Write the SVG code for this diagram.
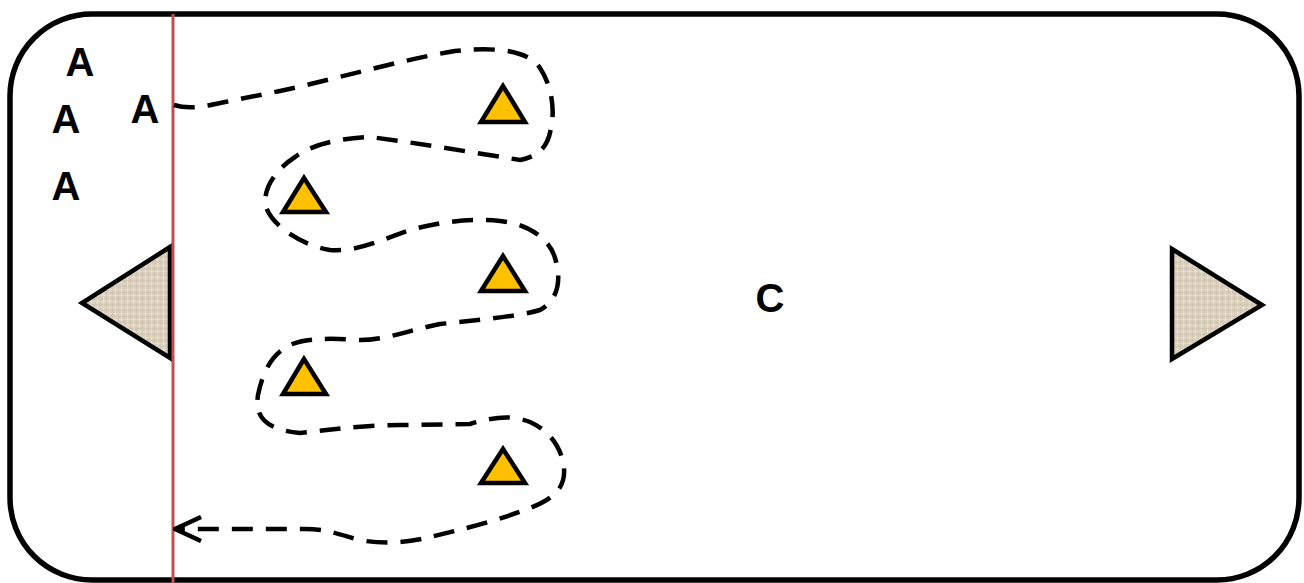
<svg xmlns="http://www.w3.org/2000/svg" width="1304" height="583" viewBox="0 0 1304 583">
  <defs>
    <style>
      .lbl { font-family: "Liberation Sans", Arial, sans-serif; font-weight: bold; font-size: 40px; fill: #000; text-anchor: middle; }
      .cone { fill: #ffc000; stroke: #000; stroke-width: 4.5; stroke-linejoin: miter; }
      .goal { fill: url(#burlap); stroke: #000; stroke-width: 4.5; stroke-linejoin: miter; }
      .route { fill: none; stroke: #000; stroke-width: 4.5; stroke-dasharray: 21 13; }
    </style>
    <pattern id="burlap" width="6" height="6" patternUnits="userSpaceOnUse">
      <rect width="6" height="6" fill="#d8cebb"/>
      <path d="M0,1.5 H6 M1.5,0 V6" stroke="#e6dfd1" stroke-width="1"/>
      <path d="M0,4.5 H6 M4.5,0 V6" stroke="#cdc2ad" stroke-width="0.6"/>
    </pattern>
    <marker id="chev" viewBox="0 0 30 28" refX="28" refY="14" markerWidth="30" markerHeight="28" markerUnits="userSpaceOnUse" orient="auto">
      <path d="M2,2 L28,14 L2,26" fill="none" stroke="#000" stroke-width="4.5" stroke-dasharray="none"/>
    </marker>
  </defs>

  <g id="field">
    <rect x="10" y="14" width="1289" height="566" rx="82" ry="82" fill="#fff" stroke="#000" stroke-width="5.5"/>
  </g>

  <g id="goal-left">
    <polygon class="goal" points="170,247 82,303 170,358"/>
  </g>
  <g id="goal-right">
    <polygon class="goal" points="1172,249 1262,305 1172,359"/>
  </g>

  <g id="start-line">
    <line x1="173" y1="14" x2="173" y2="583" stroke="#c0504d" stroke-width="3"/>
  </g>

  <g id="label-a1"><text class="lbl" x="80" y="76">A</text></g>
  <g id="label-a2"><text class="lbl" x="66" y="133">A</text></g>
  <g id="label-a3"><text class="lbl" x="145" y="123">A</text></g>
  <g id="label-a4"><text class="lbl" x="66" y="200">A</text></g>
  <g id="label-c"><text class="lbl" x="770" y="312">C</text></g>

  <g id="cone-1"><polygon class="cone" points="503,86 481,122 525,122"/></g>
  <g id="cone-2"><polygon class="cone" points="304,178 283,212 326,212"/></g>
  <g id="cone-3"><polygon class="cone" points="503,256 481,291 525,291"/></g>
  <g id="cone-4"><polygon class="cone" points="304,359 283,394 326,394"/></g>
  <g id="cone-5"><polygon class="cone" points="503,449 481,483 525,483"/></g>

  <g id="connectors">
    <path class="route" marker-end="url(#chev)" d="M174,105 C190,110 205,106 225,102 L280,91 C340,78 400,60 455,51 C500,46 530,52 540,68 C552,86 555,110 551,128 C548,146 540,156 520,160 C470,152 410,142 370,137 C340,138 310,145 295,157 C275,170 262,190 266,207 C272,225 300,245 330,250 C360,252 385,238 410,230 C440,222 470,218 500,221 C530,224 550,240 555,258 C562,280 558,300 540,310 C520,316 480,320 440,324 C410,330 385,340 360,340 C330,338 305,338 290,345 C270,355 262,375 258,395 C254,420 270,430 300,433 C330,430 360,425 400,425 L470,424 C490,418 510,414 530,422 C552,432 562,450 564,468 C566,490 550,500 530,508 C500,520 460,530 430,537 C410,542 385,545 360,540 C340,535 325,528 300,529 L175,529"/>
  </g>
</svg>
